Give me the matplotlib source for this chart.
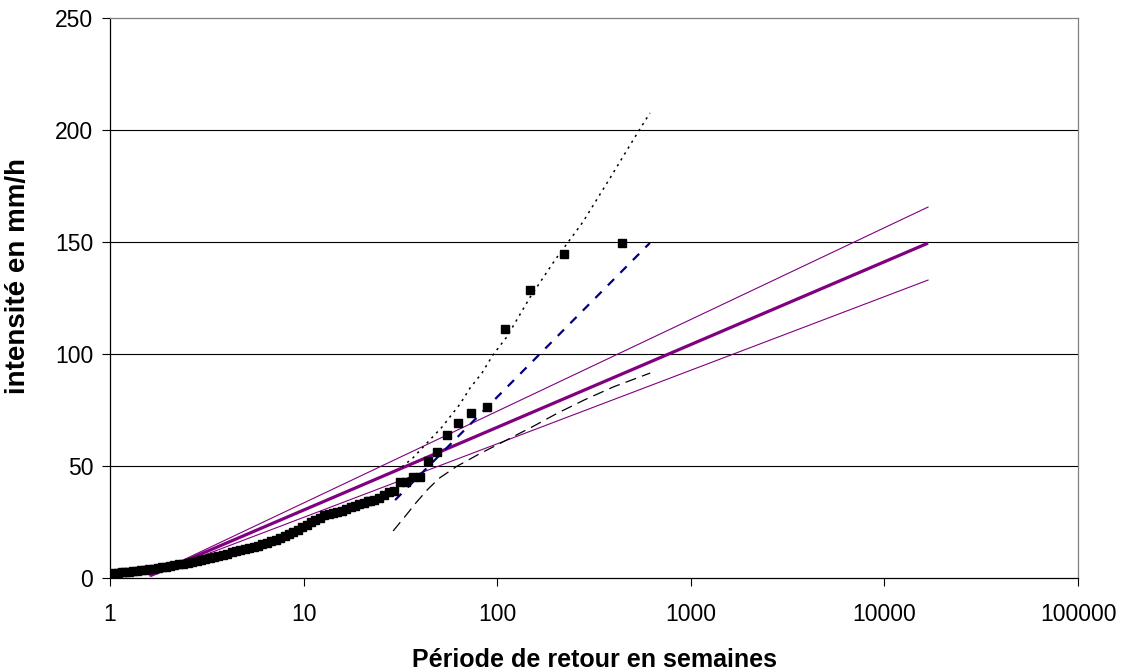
import matplotlib
matplotlib.use("Agg")
import matplotlib.pyplot as plt

plt.rcParams['font.family'] = ['Liberation Sans', 'DejaVu Sans']

# Empirical points: return period (weeks) and intensity (mm/h)
obs_T = [1.0, 1.05, 1.1, 1.15, 1.2, 1.26, 1.32, 1.38, 1.45, 1.52, 1.6, 1.68, 1.76,
         1.85, 1.95, 2.05, 2.15, 2.27, 2.39, 2.52, 2.66, 2.8, 2.95, 3.1, 3.27, 3.45,
         3.63, 3.83, 4.03, 4.25, 4.48, 4.72, 4.97, 5.24, 5.52, 5.82, 6.13, 6.46,
         6.81, 7.18, 7.56, 7.97, 8.4, 8.85, 9.33, 9.83, 10.36, 10.92, 11.5, 12.1,
         12.8, 13.5, 14.2, 14.9, 15.75, 16.6, 17.5, 18.4, 19.4, 20.4, 21.5, 22.05,
         23.2, 24.5, 25.9, 27.6, 29.4, 31.5, 33.9, 36.75, 40.1, 44.1, 49.0, 55.1,
         63.0, 73.5, 88.2, 110.25, 147.0, 220.5, 441.0]
obs_I = [2.0, 2.2, 2.4, 2.5, 2.6, 2.8, 3.0, 3.2, 3.4, 3.7, 3.9, 4.2, 4.5,
         4.8, 5.1, 5.4, 5.7, 6.1, 6.4, 6.8, 7.2, 7.6, 8.1, 8.4, 8.9, 9.3,
         9.8, 10.3, 10.8, 11.4, 11.9, 12.4, 12.9, 13.4, 13.9, 14.5, 15.1, 15.7,
         16.4, 17.1, 17.8, 18.6, 19.5, 20.5, 21.6, 22.7, 23.8, 24.9, 26.0, 27.0,
         27.9, 28.6, 29.2, 29.6, 30.1, 30.8, 31.5, 32.3, 33.1, 33.6, 34.2, 34.5,
         35.0, 35.5, 37.0, 38.4, 38.8, 42.9, 42.9, 45.1, 45.1, 52.2, 56.3, 63.8,
         69.2, 73.6, 76.3, 111.2, 128.6, 144.6, 149.6]

# Fitted law (purple) and its confidence band
fit_T = [1.61, 16800.0]
fit_I = [1.0, 149.5]
fit_up_I = [1.0, 165.6]
fit_lo_I = [1.0, 133.0]

# Tail fit (navy dashed)
tail_T = [29.7, 615.0]
tail_I = [34.8, 149.6]

# Upper bound (black dotted)
up_T = [32.2, 36.7, 43.4, 51.9, 64.3, 72.4, 83.4, 95.1, 112.0, 148.0, 199.0,
        277.0, 383.0, 515.0, 615.0]
up_I = [49.6, 53.6, 60.3, 67.4, 77.7, 84.8, 91.5, 99.6, 107.6, 125.4, 142.0,
        158.9, 178.6, 196.9, 207.6]

# Lower bound (black long dashes)
lo_T = [29.0, 33.1, 38.0, 43.7, 50.1, 61.7, 81.3, 112.0, 155.0, 204.0, 282.0,
        398.0, 617.0]
lo_I = [21.0, 27.0, 33.5, 39.5, 44.5, 49.8, 55.5, 61.6, 67.9, 73.5, 79.5,
        85.3, 91.5]

x_ticks = [1, 10, 100, 1000, 10000, 100000]
x_labels = ['1', '10', '100', '1000', '10000', '100000']
y_ticks = [0, 50, 100, 150, 200, 250]

fig = plt.figure(figsize=(11.28, 6.72), dpi=100)
ax = fig.add_axes([0.0975, 0.1399, 0.8582, 0.8333])

ax.set_xscale('log')
ax.set_xlim(1, 100000)
ax.set_ylim(0, 250)

for yv in y_ticks[1:-1]:
    ax.axhline(yv, color='black', lw=0.8, zorder=1)

ax.plot(fit_T, fit_up_I, color='#800080', lw=0.8, zorder=3)
ax.plot(fit_T, fit_lo_I, color='#800080', lw=0.8, zorder=3)
ax.plot(fit_T, fit_I, color='#800080', lw=2.3, zorder=3, solid_capstyle='butt')
ax.plot(tail_T, tail_I, color='#000080', lw=1.6, ls=(0, (4, 4)), zorder=3)
ax.plot(up_T, up_I, color='black', lw=1.1, ls=(0, (1.5, 3)), zorder=3)
ax.plot(lo_T, lo_I, color='black', lw=0.9, ls=(0, (9, 5)), zorder=3)
ax.plot(obs_T, obs_I, ls='none', marker='s', ms=5.5, color='black', mec='black', zorder=4)

ax.set_xticks(x_ticks)
ax.set_xticklabels(x_labels)
ax.xaxis.set_minor_locator(matplotlib.ticker.NullLocator())
ax.set_yticks(y_ticks)
ax.tick_params(axis='both', direction='out', length=6, width=0.8, color='black',
               labelsize=16.5)
ax.tick_params(axis='x', pad=12)
ax.tick_params(axis='y', pad=6)

for s in ['top', 'right']:
    ax.spines[s].set_color('#808080')
for s in ['left', 'bottom']:
    ax.spines[s].set_color('black')
for s in ax.spines.values():
    s.set_linewidth(0.9)

ax.set_xlabel('Période de retour en semaines', fontsize=18, fontweight='bold', labelpad=16)
ax.set_ylabel('intensité en mm/h', fontsize=20, fontweight='bold')
ax.yaxis.set_label_coords(-0.082, 0.54)

fig.savefig('out.png', dpi=100)
